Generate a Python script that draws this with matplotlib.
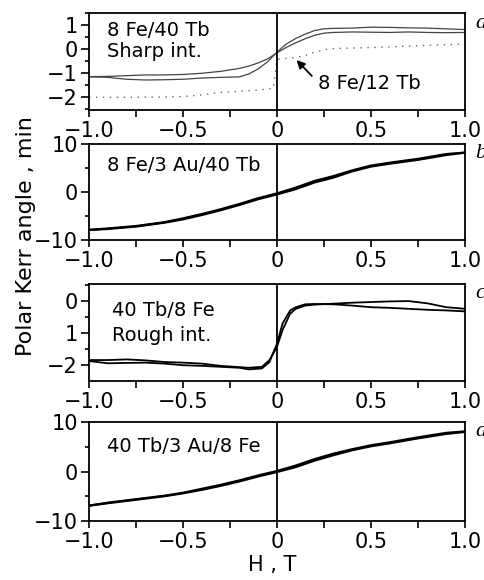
# polar Kerr hysteresis loops, four stacked panels
import matplotlib
matplotlib.use('Agg')
import matplotlib.pyplot as plt
from matplotlib.ticker import MultipleLocator

plt.rcParams['font.family'] = ['DejaVu Sans']

# ---- data ----
# panel a : 8 Fe/40 Tb (two loop branches) and 8 Fe/12 Tb (dotted)
a_x = [-1.0, -0.9, -0.8, -0.7, -0.6, -0.5, -0.4, -0.3, -0.2, -0.15, -0.1, -0.05, 0.0,
       0.05, 0.1, 0.15, 0.2, 0.25, 0.3, 0.4, 0.5, 0.6, 0.7, 0.8, 0.9, 1.0]
a_branch1 = [-1.14, -1.13, -1.10, -1.07, -1.07, -1.05, -1.00, -0.92, -0.80, -0.70, -0.57, -0.40, -0.15,
             0.08, 0.27, 0.44, 0.58, 0.67, 0.70, 0.72, 0.71, 0.70, 0.72, 0.70, 0.69, 0.70]
a_branch2 = [-1.15, -1.17, -1.25, -1.28, -1.27, -1.25, -1.20, -1.17, -1.15, -1.03, -0.82, -0.52, -0.12,
             0.22, 0.45, 0.63, 0.78, 0.85, 0.87, 0.88, 0.92, 0.91, 0.89, 0.88, 0.85, 0.82]
a12_x = [-1.0, -0.8, -0.6, -0.5, -0.4, -0.3, -0.2, -0.1, -0.02, 0.0, 0.05, 0.1, 0.15,
         0.2, 0.25, 0.3, 0.4, 0.5, 0.6, 0.7, 0.8, 0.9, 1.0]
a12_y = [-2.0, -2.0, -1.99, -1.97, -1.90, -1.80, -1.75, -1.70, -1.63, -0.42, -0.38, -0.34, -0.26,
         -0.12, -0.02, 0.03, 0.05, 0.07, 0.10, 0.13, 0.16, 0.19, 0.22]

# panel b : 8 Fe/3 Au/40 Tb
b_x = [-1.0, -0.9, -0.75, -0.6, -0.5, -0.4, -0.3, -0.2, -0.1, 0.0,
       0.1, 0.2, 0.3, 0.4, 0.5, 0.6, 0.75, 0.9, 1.0]
b_up = [-8.0, -7.8, -7.3, -6.5, -5.8, -4.9, -3.9, -2.8, -1.6, -0.6,
        0.5, 1.9, 2.9, 4.2, 5.2, 5.8, 6.6, 7.6, 8.1]
b_down = [-8.0, -7.7, -7.2, -6.4, -5.6, -4.7, -3.7, -2.6, -1.4, -0.4,
          0.8, 2.2, 3.2, 4.4, 5.4, 6.0, 6.8, 7.8, 8.1]

# panel c : 40 Tb/8 Fe
c_x = [-1.0, -0.9, -0.8, -0.7, -0.6, -0.5, -0.4, -0.3, -0.2, -0.15, -0.08, -0.04, 0.0,
       0.03, 0.07, 0.1, 0.15, 0.2, 0.3, 0.4, 0.5, 0.6, 0.7, 0.8, 0.9, 1.0]
c_up = [-1.84, -1.84, -1.82, -1.85, -1.90, -1.92, -1.95, -2.02, -2.06, -2.08, -2.05, -1.84, -1.43,
        -0.90, -0.40, -0.25, -0.15, -0.12, -0.09, -0.06, -0.04, -0.02, -0.01, -0.08, -0.20, -0.25]
c_down = [-1.87, -1.94, -1.93, -1.92, -1.95, -2.00, -2.02, -2.05, -2.08, -2.13, -2.10, -1.90, -1.33,
          -0.70, -0.30, -0.20, -0.11, -0.10, -0.11, -0.15, -0.20, -0.22, -0.25, -0.28, -0.30, -0.33]

# panel d : 40 Tb/3 Au/8 Fe
d_x = b_x
d_up = [-6.9, -6.4, -5.7, -5.0, -4.4, -3.7, -2.9, -2.0, -1.0, -0.1,
        0.9, 2.2, 3.3, 4.3, 5.1, 5.7, 6.7, 7.6, 8.0]
d_down = [-6.9, -6.3, -5.6, -4.9, -4.3, -3.5, -2.7, -1.8, -0.8, 0.1,
          1.2, 2.5, 3.6, 4.5, 5.3, 5.9, 6.9, 7.8, 8.1]

x_ticklabels = ['\u22121.0', '\u22120.5', '0', '0.5', '1.0']

fig = plt.figure(figsize=(4.85, 5.8), dpi=100)

W, H = 485.0, 580.0
left, right = 89, 465
# (top px, bottom px) of each panel
boxes = [(13, 110), (143.5, 239.5), (284, 381), (422, 521)]
axes = []
for top, bottom in boxes:
    ax = fig.add_axes([left / W, 1 - bottom / H, (right - left) / W, (bottom - top) / H])
    axes.append(ax)


def style(ax, ylim, yticks, ylabels, minor):
    ax.set_xlim(-1, 1)
    ax.set_ylim(*ylim)
    ax.set_xticks([-1, -0.5, 0, 0.5, 1])
    ax.set_xticklabels(x_ticklabels)
    ax.xaxis.set_minor_locator(MultipleLocator(0.25))
    ax.set_yticks(yticks)
    ax.set_yticklabels(ylabels)
    ax.yaxis.set_minor_locator(MultipleLocator(minor))
    ax.tick_params(axis='both', which='both', direction='out', width=1.2,
                   labelsize=15, top=False, right=False)
    ax.tick_params(axis='x', which='major', length=5, pad=3)
    ax.tick_params(axis='x', which='minor', length=5)
    ax.tick_params(axis='y', which='major', length=6, pad=2)
    ax.tick_params(axis='y', which='minor', length=3)
    for s in ax.spines.values():
        s.set_linewidth(1.3)
    ax.axvline(0, color='black', lw=1.3)


# panel a
ax = axes[0]
ax.plot(a_x, a_branch1, color='#444444', lw=0.9)
ax.plot(a_x, a_branch2, color='#444444', lw=0.9)
ax.plot(a12_x, a12_y, color='#666666', lw=1.0, linestyle=(0, (1, 4)))
style(ax, (-2.53, 1.51), [1, 0, -1, -2], ['1', '0', '\u22121', '\u22122'], 0.5)
ax.text(-0.905, 0.55, '8 Fe/40 Tb', fontsize=14)
ax.text(-0.905, -0.32, 'Sharp int.', fontsize=14)
ax.annotate('', xy=(0.104, -0.45), xytext=(0.185, -1.11),
            arrowprops=dict(arrowstyle='-|>', color='black', lw=1.3,
                            shrinkA=0, shrinkB=0, mutation_scale=12))
ax.text(0.218, -1.67, '8 Fe/12 Tb', fontsize=14)

# panel b
ax = axes[1]
ax.plot(b_x, b_up, color='black', lw=1.6)
ax.plot(b_x, b_down, color='black', lw=1.6)
style(ax, (-10, 10), [10, 0, -10], ['10', '0', '\u221210'], 5)
ax.text(-0.905, 4.2, '8 Fe/3 Au/40 Tb', fontsize=14)

# panel c
ax = axes[2]
ax.plot(c_x, c_up, color='black', lw=1.3)
ax.plot(c_x, c_down, color='black', lw=1.3)
style(ax, (-2.49, 0.52), [0, -1, -2], ['0', '1', '\u22122'], 0.5)
ax.text(-0.88, -0.475, '40 Tb/8 Fe', fontsize=14)
ax.text(-0.88, -1.25, 'Rough int.', fontsize=14)

# panel d
ax = axes[3]
ax.plot(d_x, d_up, color='black', lw=1.6)
ax.plot(d_x, d_down, color='black', lw=1.6)
style(ax, (-10, 10), [10, 0, -10], ['10', '0', '\u221210'], 5)
ax.text(-0.905, 3.9, '40 Tb/3 Au/8 Fe', fontsize=14)

# panel letters on the right
for (top, bottom), letter in zip(boxes, ['a', 'b', 'c', 'd']):
    fig.text(475 / W, 1 - (top + 10) / H, letter, fontsize=16, style='italic',
             family='Liberation Serif', va='center', ha='left')

fig.text(26 / W, 1 - 236 / H, 'Polar Kerr angle , min', rotation=90,
         fontsize=16, va='center', ha='center')
fig.text(272 / W, 1 - 565 / H, 'H , T', fontsize=15, va='center', ha='center')

plt.savefig('out.png', dpi=100)
